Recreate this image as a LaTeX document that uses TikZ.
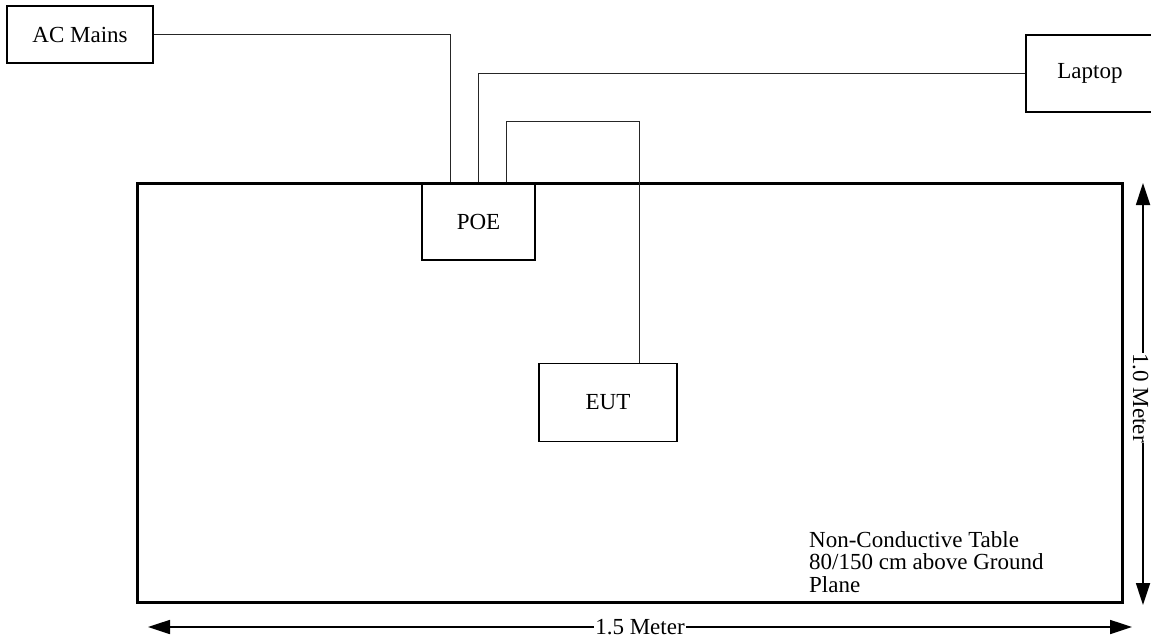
\documentclass[tikz,border=0pt]{standalone}
\usepackage{fontspec}
\setmainfont{Liberation Serif}
\usetikzlibrary{arrows.meta,calc}
\begin{document}
\begin{tikzpicture}[x=1pt,y=-1pt,
  lbl/.style={font=\fontsize{23}{22.5}\selectfont},
  box/.style={draw,line width=1.1pt,fill=white,inner sep=0pt,lbl},
  wire/.style={line width=0.8pt,draw=black!85},
  dim/.style={line width=1.7pt,{Triangle[length=22pt,width=14pt]}-{Triangle[length=22pt,width=14pt]}}]
\useasboundingbox (0,0) rectangle (1151,640);
% devices
\node[box,minimum width=146pt,minimum height=57pt] (ac) at (80,34.5) {AC Mains};
\node[box,minimum width=128pt,minimum height=77pt] (laptop) at (1090,73.5) {Laptop};
\node[box,minimum width=113pt,minimum height=77pt] (poe) at (478.5,221.5) {POE};
\node[box,minimum width=138pt,minimum height=78pt] (eut) at (608,402.5) {EUT};
% table
\node[draw,line width=3pt,minimum width=985pt,minimum height=419pt,inner sep=0pt] (table) at (629.5,392.5) {};
\node[lbl,anchor=north west,align=left,inner sep=0pt] (tabletext) at (809,531) {Non-Conductive Table\\80/150 cm above Ground\\Plane};
% wires
\draw[wire] (ac.east) -| ([xshift=-28.5pt]poe.north);
\draw[wire] (laptop.west) -| (poe.north);
\draw[wire] ([xshift=27.5pt]poe.north) -- ++(0,-61) -| ([xshift=31pt]eut.north);
% dimensions
\coordinate (hl) at (148,627);
\coordinate (hr) at (1132,627);
\coordinate (vt) at (1143,183);
\coordinate (vb) at (1143,605);
\draw[dim] (hl) -- node[lbl,fill=white,inner sep=1pt] (hlabel) {1.5 Meter} (hr);
\draw[dim] (vt) -- (vb);
\node[lbl,fill=white,inner sep=0.5pt,rotate=-90] (vlabel) at (1140.5,398) {1.0 Meter};
\end{tikzpicture}
\end{document}
